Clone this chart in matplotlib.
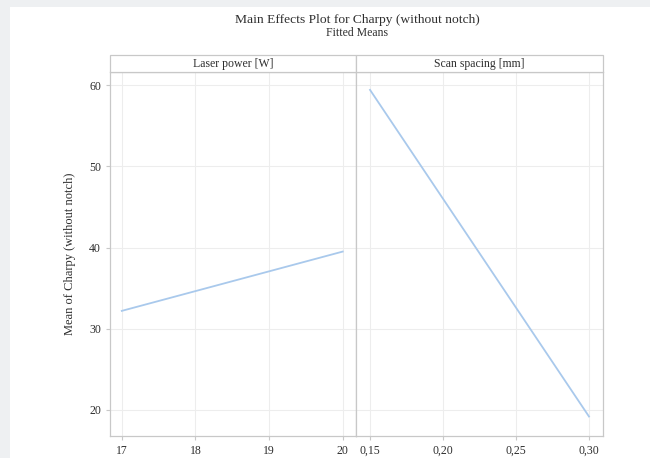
import matplotlib
matplotlib.use("Agg")
import matplotlib.pyplot as plt
from matplotlib.patches import Rectangle

plt.rcParams['font.family'] = ['Liberation Serif', 'DejaVu Serif']

# Fitted means per factor level
laser_power = [17, 20]
laser_means = [32.2, 39.5]
scan_spacing = [0.15, 0.30]
scan_means = [59.4, 19.2]

laser_ticks = [17, 18, 19, 20]
scan_ticks = [0.15, 0.20, 0.25, 0.30]
scan_tick_labels = ["0,15", "0,20", "0,25", "0,30"]
y_ticks = [20, 30, 40, 50, 60]

W, H = 650, 458
fig = plt.figure(figsize=(W / 100, H / 100), dpi=100)
fig.patch.set_facecolor("#eef0f2")
fig.add_artist(Rectangle((10 / W, 0), 1, 1 - 7 / H, transform=fig.transFigure,
                         facecolor="white", edgecolor="none", zorder=0))

frame_col = "#c8c8c8"
grid_col = "#ededed"
line_col = "#a9c9ec"
text_col = "#2e2e2e"

bottom = (H - 436) / H
height = (436 - 72) / H
ax1 = fig.add_axes([110 / W, bottom, (356 - 110) / W, height])
ax2 = fig.add_axes([356 / W, bottom, (603 - 356) / W, height], sharey=ax1)

panels = [
    (ax1, laser_power, laser_means, laser_ticks, [str(t) for t in laser_ticks],
     (16.84, 20.18), "Laser power [W]"),
    (ax2, scan_spacing, scan_means, scan_ticks, scan_tick_labels,
     (0.1404, 0.3096), "Scan spacing [mm]"),
]

for ax, x, y, xt, xtl, xlim, strip in panels:
    ax.set_facecolor("white")
    ax.plot(x, y, color=line_col, lw=1.3)
    ax.set_xlim(*xlim)
    ax.set_xticks(xt)
    ax.set_xticklabels(xtl)
    ax.grid(True, color=grid_col, lw=0.8)
    ax.set_axisbelow(True)
    for s in ax.spines.values():
        s.set_color(frame_col)
        s.set_linewidth(0.9)
    ax.tick_params(axis="both", colors=frame_col, labelcolor=text_col,
                   labelsize=8.5, length=3, width=0.8)
    # facet strip above the panel
    pos = ax.get_position()
    fig.add_artist(Rectangle((pos.x0, pos.y1), pos.width, 17 / H,
                             transform=fig.transFigure, facecolor="white",
                             edgecolor=frame_col, lw=0.9))
    fig.text(pos.x0 + pos.width / 2, pos.y1 + 8.5 / H, strip,
             ha="center", va="center", fontsize=8.5, color=text_col)

ax1.set_ylim(16.8, 61.6)
ax1.set_yticks(y_ticks)
ax1.set_ylabel("Mean of Charpy (without notch)", fontsize=9, color=text_col,
               labelpad=9)
ax2.tick_params(axis="y", left=False, labelleft=False)

fig.text(357 / W, 1 - 20 / H, "Main Effects Plot for Charpy (without notch)",
         ha="center", va="center", fontsize=9.7, color=text_col)
fig.text(357 / W, 1 - 33 / H, "Fitted Means",
         ha="center", va="center", fontsize=8.5, color=text_col)

fig.savefig("out.png", dpi=100, facecolor=fig.get_facecolor())
